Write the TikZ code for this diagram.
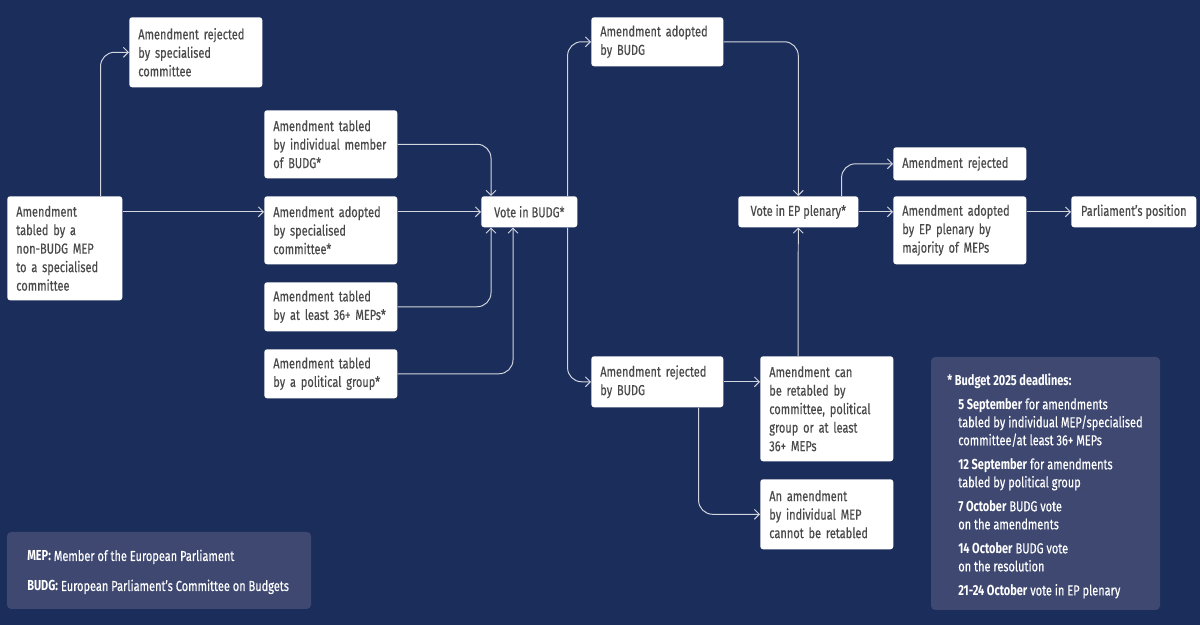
\documentclass[tikz,border=0pt]{standalone}
\usepackage{fontspec}
\setmainfont{Fira Sans}[FakeStretch=0.76, UprightFeatures={FakeBold=0.4}]
\usetikzlibrary{arrows.meta}
\definecolor{epnavy}{HTML}{1B2D5A}
\definecolor{epslate}{HTML}{3E4870}
\definecolor{eplink}{HTML}{D3D6DE}
\definecolor{eptext}{HTML}{4A4A4A}
\hyphenpenalty=10000
\exhyphenpenalty=10000

\begin{document}
\begin{tikzpicture}[
  card/.style={fill=white, rounded corners=2pt, anchor=north west, align=left,
    inner xsep=0.225cm, inner ysep=0pt, text=eptext,
    font=\fontsize{10.3pt}{13.16pt}\selectfont},
  link/.style={draw=eplink, line width=0.7pt, rounded corners=0.350cm,
    -{Straight Barb[length=3.5pt,width=7pt]}},
  note/.style={anchor=north west, align=left, inner sep=0pt, text=white,
    font=\fontsize{10.3pt}{12.8pt}\selectfont}]
\useasboundingbox (0.000,0.000) rectangle (30.000,15.625);
\fill[epnavy] (0.000,0.000) rectangle (30.000,15.625);
\node[card, text width=2.875cm, minimum height=1.750cm] (rejspec) at (3.225,15.200) {Amendment rejected\\by specialised\\committee};
\node[card, text width=2.425cm, minimum height=2.600cm] (source) at (0.175,10.725) {Amendment\\tabled by a\\non-BUDG MEP\\to a specialised\\committee};
\node[card, text width=2.875cm, minimum height=1.700cm] (tabbudg) at (6.600,12.875) {Amendment tabled\\by individual member\\of BUDG*};
\node[card, text width=2.875cm, minimum height=1.700cm] (adoptspec) at (6.600,10.725) {Amendment adopted\\by specialised\\committee*};
\node[card, text width=2.875cm, minimum height=1.225cm] (tab36) at (6.600,8.575) {Amendment tabled\\by at least 36+ MEPs*};
\node[card, text width=2.875cm, minimum height=1.225cm] (tabpg) at (6.600,6.900) {Amendment tabled\\by a political group*};
\node[card, minimum width=2.400cm, minimum height=0.775cm] (votebudg) at (12.025,10.725) {Vote in BUDG*};
\node[card, text width=2.850cm, minimum height=1.225cm] (adoptbudg) at (14.775,15.200) {Amendment adopted\\by BUDG};
\node[card, text width=2.850cm, minimum height=1.275cm] (rejbudg) at (14.775,6.725) {Amendment rejected\\by BUDG};
\node[card, minimum width=3.000cm, minimum height=0.775cm] (voteep) at (18.450,10.725) {Vote in EP plenary*};
\node[card, text width=2.875cm, minimum height=0.825cm] (rejep) at (22.325,11.950) {Amendment rejected};
\node[card, text width=2.875cm, minimum height=1.700cm] (adoptep) at (22.325,10.725) {Amendment adopted\\by EP plenary by\\majority of MEPs};
\node[card, minimum width=3.125cm, minimum height=0.775cm] (position) at (26.775,10.725) {Parliament's position};
\node[card, text width=2.875cm, minimum height=2.625cm] (retable) at (19.000,6.725) {Amendment can\\be retabled by\\committee, political\\group or at least\\36+ MEPs};
\node[card, text width=2.875cm, minimum height=1.750cm] (noretable) at (19.000,3.650) {An amendment\\by individual MEP\\cannot be retabled};
\draw[link] ([xshift=-0.550cm]source.north east) |- (rejspec.west);
\draw[link] (source.east |- votebudg.west) -- (adoptspec.west |- votebudg.west);
\draw[link] (adoptspec.east |- votebudg.west) -- (votebudg.west);
\draw[link] (tabbudg.east) -| ([xshift=0.250cm]votebudg.north west);
\draw[link] (tab36.east) -| ([xshift=0.250cm]votebudg.south west);
\draw[link] (tabpg.east) -| ([xshift=0.800cm]votebudg.south west);
\draw[link] ([xshift=-0.250cm]votebudg.north east) |- (adoptbudg.west);
\draw[link] ([xshift=-0.250cm]votebudg.south east) |- (rejbudg.west);
\draw[link] (adoptbudg.east) -| (voteep.north);
\draw[link] ([xshift=0.950cm]retable.north west) -- (voteep.south);
\draw[link] ([xshift=-0.425cm]voteep.north east) |- (rejep.west);
\draw[link] (voteep.east) -- (adoptep.west |- voteep.east);
\draw[link] (adoptep.east |- position.west) -- (position.west);
\draw[link] (rejbudg.east) -- (retable.west |- rejbudg.east);
\draw[link] ([xshift=-0.625cm]rejbudg.south east) |- (noretable.west);
\fill[epslate, rounded corners=3pt] (0.175,0.400) rectangle (7.775,2.325);
\node[note, anchor=base west] (mep) at (0.675,1.600) {\textbf{MEP:} Member of the European Parliament};
\node[note, anchor=base west] (budg) at (0.675,0.850) {\textbf{BUDG:} European Parliament's Committee on Budgets};
\fill[epslate, rounded corners=3pt] (23.275,0.375) rectangle (29.000,6.700);
\node[note, anchor=base west] (heading) at (23.675,5.975) {\textbf{* Budget 2025 deadlines:}};
\node[note] (dates) at (23.950,5.675) {\textbf{5 September} for amendments\\
tabled by individual MEP/specialised\\
committee/at least 36+ MEPs\\[4.3pt]
\textbf{12 September} for amendments\\
tabled by political group\\[4.3pt]
\textbf{7 October} BUDG vote\\
on the amendments\\[4.3pt]
\textbf{14 October} BUDG vote\\
on the resolution\\[4.3pt]
\textbf{21-24 October} vote in EP plenary};
\end{tikzpicture}
\end{document}
